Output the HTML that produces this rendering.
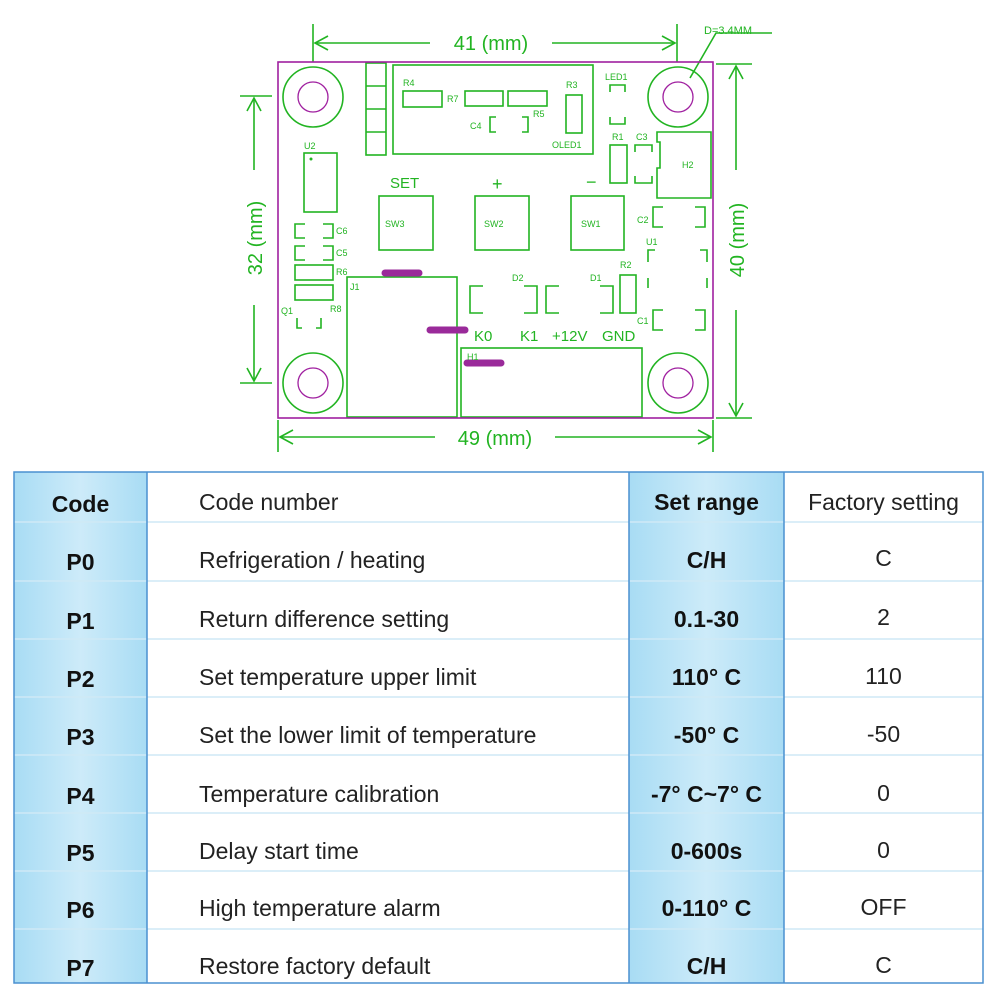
<!DOCTYPE html>
<html><head><meta charset="utf-8"><style>
body{margin:0;width:1000px;height:1000px;background:#fff;overflow:hidden;position:relative;font-family:"Liberation Sans",sans-serif}
svg{position:absolute;left:0;top:0}
.t{position:absolute;font-size:23px;color:#222;white-space:nowrap}
.b{font-weight:bold;color:#111}
</style></head><body>
<svg width="1000" height="1000" viewBox="0 0 1000 1000">
<g fill="none" stroke="#22b422" stroke-width="1.6">
 <!-- dimension lines -->
 <line x1="313" y1="24" x2="313" y2="62"/><line x1="677" y1="24" x2="677" y2="62"/>
 <line x1="315" y1="43" x2="430" y2="43"/><line x1="552" y1="43" x2="675" y2="43"/>
 <path d="M328 36 L315 43 L328 50 M662 36 L675 43 L662 50"/>
 <line x1="278" y1="420" x2="278" y2="452"/><line x1="713" y1="420" x2="713" y2="452"/>
 <line x1="280" y1="437" x2="435" y2="437"/><line x1="555" y1="437" x2="711" y2="437"/>
 <path d="M293 430 L280 437 L293 444 M698 430 L711 437 L698 444"/>
 <line x1="240" y1="96" x2="272" y2="96"/><line x1="240" y1="383" x2="272" y2="383"/>
 <line x1="254" y1="98" x2="254" y2="170"/><line x1="254" y1="305" x2="254" y2="381"/>
 <path d="M247 111 L254 98 L261 111 M247 368 L254 381 L261 368"/>
 <line x1="716" y1="64" x2="752" y2="64"/><line x1="716" y1="418" x2="752" y2="418"/>
 <line x1="736" y1="66" x2="736" y2="170"/><line x1="736" y1="310" x2="736" y2="416"/>
 <path d="M729 79 L736 66 L743 79 M729 403 L736 416 L743 403"/>
 <path d="M690 78 L716 33 L772 33"/>
 <!-- holes -->
 <circle cx="313" cy="97" r="30"/><circle cx="678" cy="97" r="30"/>
 <circle cx="313" cy="383" r="30"/><circle cx="678" cy="383" r="30"/>
 <!-- pin strip & oled -->
 <rect x="366" y="63" width="20" height="92"/><line x1="366" y1="86" x2="386" y2="86"/><line x1="366" y1="109" x2="386" y2="109"/><line x1="366" y1="132" x2="386" y2="132"/>
 <rect x="393" y="65" width="200" height="89"/>
 <rect x="403" y="91" width="39" height="16"/><rect x="465" y="91" width="38" height="15"/><rect x="508" y="91" width="39" height="15"/>
 <rect x="566" y="95" width="16" height="38"/>
 <path d="M496 117 H490 V132 H496 M522 117 H528 V132 H522"/>
 <path d="M610 92 V85 H625 V92 M610 117 V124 H625 V117"/>
 <rect x="610" y="145" width="17" height="38"/>
 <path d="M635 152 V145 H652 V152 M635 176 V183 H652 V176"/>
 <path d="M657 132 H711 V198 H657 V168 H660 V142 H657 Z"/>
 <rect x="304" y="153" width="33" height="59"/>
 <rect x="379" y="196" width="54" height="54"/><rect x="475" y="196" width="54" height="54"/><rect x="571" y="196" width="53" height="54"/>
 <path d="M305 224 H295 V238 H305 M323 224 H333 V238 H323"/>
 <path d="M305 246 H295 V260 H305 M323 246 H333 V260 H323"/>
 <rect x="295" y="265" width="38" height="15"/><rect x="295" y="285" width="38" height="15"/>
 <path d="M297 318 V328 H302 M321 318 V328 H316"/>
 <rect x="347" y="277" width="110" height="140"/>
 <rect x="461" y="348" width="181" height="69"/>
 <path d="M483 286 H470 V313 H483 M524 286 H537 V313 H524"/>
 <path d="M559 286 H546 V313 H559 M600 286 H613 V313 H600"/>
 <rect x="620" y="275" width="16" height="38"/>
 <path d="M648 262 V250 H655 M707 262 V250 H700 M648 278 V288 M707 278 V288"/>
 <path d="M663 207 H653 V227 H663 M695 207 H705 V227 H695"/>
 <path d="M663 310 H653 V330 H663 M695 310 H705 V330 H695"/>
</g>
<rect x="278" y="62" width="435" height="356" fill="none" stroke="#a020a0" stroke-width="1.6"/>
<g fill="none" stroke="#a020a0" stroke-width="1.3">
 <circle cx="313" cy="97" r="15"/><circle cx="678" cy="97" r="15"/><circle cx="313" cy="383" r="15"/><circle cx="678" cy="383" r="15"/>
</g>
<g stroke="#9a2a9a" stroke-width="7" stroke-linecap="round">
 <line x1="385" y1="273" x2="419" y2="273"/><line x1="430" y1="330" x2="465" y2="330"/><line x1="467" y1="363" x2="501" y2="363"/>
</g>
<circle cx="311" cy="159" r="1.5" fill="#22b422"/>
<g fill="#22b422" font-family="Liberation Sans" font-size="9">
 <text x="403" y="86">R4</text><text x="447" y="102">R7</text><text x="533" y="117">R5</text><text x="566" y="88">R3</text>
 <text x="470" y="129">C4</text><text x="552" y="148">OLED1</text><text x="605" y="80">LED1</text>
 <text x="612" y="140">R1</text><text x="636" y="140">C3</text><text x="682" y="168">H2</text>
 <text x="304" y="149">U2</text><text x="336" y="234">C6</text><text x="336" y="256">C5</text><text x="336" y="275">R6</text>
 <text x="330" y="312">R8</text><text x="281" y="314">Q1</text><text x="350" y="290">J1</text>
 <text x="385" y="227">SW3</text><text x="484" y="227">SW2</text><text x="581" y="227">SW1</text>
 <text x="637" y="223">C2</text><text x="646" y="245">U1</text><text x="637" y="324">C1</text>
 <text x="620" y="268">R2</text><text x="512" y="281">D2</text><text x="590" y="281">D1</text><text x="467" y="360">H1</text>
 <text x="704" y="34" font-size="11">D=3.4MM</text>
</g>
<g fill="#22b422" font-family="Liberation Sans" font-size="15">
 <text x="390" y="188">SET</text><text x="492" y="190" font-size="18">+</text><text x="586" y="188" font-size="18">−</text>
 <text x="474" y="341">K0</text><text x="520" y="341">K1</text><text x="552" y="341">+12V</text><text x="602" y="341">GND</text>
</g>
<g fill="#22b422" font-family="Liberation Sans" font-size="20">
 <text x="491" y="50" text-anchor="middle">41 (mm)</text>
 <text x="495" y="445" text-anchor="middle">49 (mm)</text>
 <text transform="translate(262,238) rotate(-90)" text-anchor="middle">32 (mm)</text>
 <text transform="translate(744,240) rotate(-90)" text-anchor="middle">40 (mm)</text>
</g>
<!-- table -->
<defs><linearGradient id="g" x1="0" x2="1"><stop offset="0" stop-color="#a8dcf4"/><stop offset="0.5" stop-color="#cdebf9"/><stop offset="1" stop-color="#a8dcf4"/></linearGradient></defs>
<rect x="14" y="472" width="133" height="511" fill="url(#g)"/>
<rect x="629" y="472" width="155" height="511" fill="url(#g)"/>
<g stroke="#cfe9f6" stroke-width="1.5">
 <line x1="14" y1="522" x2="983" y2="522"/><line x1="14" y1="581" x2="983" y2="581"/><line x1="14" y1="639" x2="983" y2="639"/>
 <line x1="14" y1="697" x2="983" y2="697"/><line x1="14" y1="755" x2="983" y2="755"/><line x1="14" y1="813" x2="983" y2="813"/>
 <line x1="14" y1="871" x2="983" y2="871"/><line x1="14" y1="929" x2="983" y2="929"/>
</g>
<g stroke="#4a90d0" stroke-width="1.5" fill="none">
 <rect x="14" y="472" width="969" height="511"/>
 <line x1="147" y1="472" x2="147" y2="983"/><line x1="629" y1="472" x2="629" y2="983"/><line x1="784" y1="472" x2="784" y2="983"/>
</g>
</svg>
<div class="t b" style="left:14px;width:133px;text-align:center;top:491px">Code</div>
<div class="t" style="left:199px;top:489px">Code number</div>
<div class="t b" style="left:629px;width:155px;text-align:center;top:489px">Set range</div>
<div class="t" style="left:784px;width:199px;text-align:center;top:489px">Factory setting</div>

<div class="t b" style="left:14px;width:133px;text-align:center;top:549px">P0</div><div class="t" style="left:199px;top:547px">Refrigeration / heating</div><div class="t b" style="left:629px;width:155px;text-align:center;top:547px">C/H</div><div class="t" style="left:784px;width:199px;text-align:center;top:545px">C</div>
<div class="t b" style="left:14px;width:133px;text-align:center;top:608px">P1</div><div class="t" style="left:199px;top:606px">Return difference setting</div><div class="t b" style="left:629px;width:155px;text-align:center;top:606px">0.1-30</div><div class="t" style="left:784px;width:199px;text-align:center;top:604px">2</div>
<div class="t b" style="left:14px;width:133px;text-align:center;top:666px">P2</div><div class="t" style="left:199px;top:664px">Set temperature upper limit</div><div class="t b" style="left:629px;width:155px;text-align:center;top:664px">110° C</div><div class="t" style="left:784px;width:199px;text-align:center;top:663px">110</div>
<div class="t b" style="left:14px;width:133px;text-align:center;top:724px">P3</div><div class="t" style="left:199px;top:722px">Set the lower limit of temperature</div><div class="t b" style="left:629px;width:155px;text-align:center;top:722px">-50° C</div><div class="t" style="left:784px;width:199px;text-align:center;top:721px">-50</div>
<div class="t b" style="left:14px;width:133px;text-align:center;top:783px">P4</div><div class="t" style="left:199px;top:781px">Temperature calibration</div><div class="t b" style="left:629px;width:155px;text-align:center;top:781px">-7° C~7° C</div><div class="t" style="left:784px;width:199px;text-align:center;top:780px">0</div>
<div class="t b" style="left:14px;width:133px;text-align:center;top:840px">P5</div><div class="t" style="left:199px;top:838px">Delay start time</div><div class="t b" style="left:629px;width:155px;text-align:center;top:838px">0-600s</div><div class="t" style="left:784px;width:199px;text-align:center;top:837px">0</div>
<div class="t b" style="left:14px;width:133px;text-align:center;top:897px">P6</div><div class="t" style="left:199px;top:895px">High temperature alarm</div><div class="t b" style="left:629px;width:155px;text-align:center;top:895px">0-110° C</div><div class="t" style="left:784px;width:199px;text-align:center;top:894px">OFF</div>
<div class="t b" style="left:14px;width:133px;text-align:center;top:955px">P7</div><div class="t" style="left:199px;top:953px">Restore factory default</div><div class="t b" style="left:629px;width:155px;text-align:center;top:953px">C/H</div><div class="t" style="left:784px;width:199px;text-align:center;top:952px">C</div>
</body></html>
